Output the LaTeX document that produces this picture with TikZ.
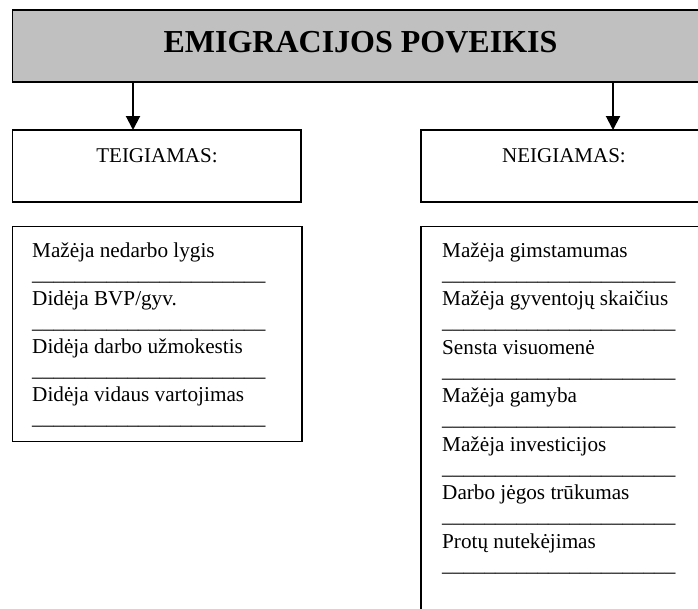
\documentclass[tikz,border=0pt]{standalone}
\usepackage{fontspec}
\setmainfont{Liberation Serif}
\usetikzlibrary{arrows.meta}
\definecolor{titlegray}{HTML}{C0C0C0}
\newcommand\blankrule{\_\_\_\_\_\_\_\_\_\_\_\_\_\_\_\_\_\_\_\_\_\_}
\begin{document}
\begin{tikzpicture}[x=1pt,y=-1pt,
  frame/.style={draw=black, line width=1.5pt, inner sep=0pt, outer sep=0pt},
  titlebox/.style={frame, fill=titlegray},
  titletxt/.style={inner sep=0pt, anchor=base, font=\fontsize{32}{38}\selectfont\bfseries},
  headtxt/.style={inner sep=0pt, anchor=base, font=\fontsize{21}{24}\selectfont},
  itemtxt/.style={inner sep=0pt, anchor=base west, font=\fontsize{21.2}{24}\selectfont},
  linktip/.style={line width=2pt, -{Triangle[width=14pt,length=14pt]}}
]
\useasboundingbox (0,0) rectangle (698,608);
% title
\node[titlebox, minimum width=697.3pt, minimum height=72pt] (title) at (361.35,46) {};
\node[titletxt] (titlet) at (360.5,52) {EMIGRACIJOS POVEIKIS};
% heading boxes
\node[frame, minimum width=288.3pt, minimum height=72pt] (teig) at (156.85,166) {};
\node[headtxt] (teigt) at (157,162) {TEIGIAMAS:};
\node[frame, minimum width=289pt, minimum height=72pt] (neig) at (565.5,166) {};
\node[headtxt] (neigt) at (564,162) {NEIGIAMAS:};
% arrows
\coordinate (la) at (133,0);
\coordinate (ra) at (613,0);
\draw[linktip] (title.south -| la) -- (teig.north -| la);
\draw[linktip] (title.south -| ra) -- (neig.north -| ra);
% list boxes
\node[frame, minimum width=289.5pt, minimum height=215.2pt] (pos) at (157.25,334.1) {};
\node[frame, minimum width=289pt, minimum height=473.5pt] (neg) at (565.5,463.25) {};
% positive items
\node[itemtxt] (p1) at (32,257) {Mažėja nedarbo lygis};
\node[itemtxt] (p1l) at (32,280) {\blankrule};
\node[itemtxt] (p2) at (32,305.3) {Didėja BVP/gyv.};
\node[itemtxt] (p2l) at (32,328.3) {\blankrule};
\node[itemtxt] (p3) at (32,353.6) {Didėja darbo užmokestis};
\node[itemtxt] (p3l) at (32,376.6) {\blankrule};
\node[itemtxt] (p4) at (32,401.9) {Didėja vidaus vartojimas};
\node[itemtxt] (p4l) at (32,424.9) {\blankrule};
% negative items
\node[itemtxt] (n1) at (442,257) {Mažėja gimstamumas};
\node[itemtxt] (n1l) at (442,280) {\blankrule};
\node[itemtxt] (n2) at (442,305.5) {Mažėja gyventojų skaičius};
\node[itemtxt] (n2l) at (442,328.5) {\blankrule};
\node[itemtxt] (n3) at (442,354) {Sensta visuomenė};
\node[itemtxt] (n3l) at (442,377) {\blankrule};
\node[itemtxt] (n4) at (442,402.5) {Mažėja gamyba};
\node[itemtxt] (n4l) at (442,425.5) {\blankrule};
\node[itemtxt] (n5) at (442,451) {Mažėja investicijos};
\node[itemtxt] (n5l) at (442,474) {\blankrule};
\node[itemtxt] (n6) at (442,499.5) {Darbo jėgos trūkumas};
\node[itemtxt] (n6l) at (442,522.5) {\blankrule};
\node[itemtxt] (n7) at (442,548) {Protų nutekėjimas};
\node[itemtxt] (n7l) at (442,571) {\blankrule};
\end{tikzpicture}
\end{document}
